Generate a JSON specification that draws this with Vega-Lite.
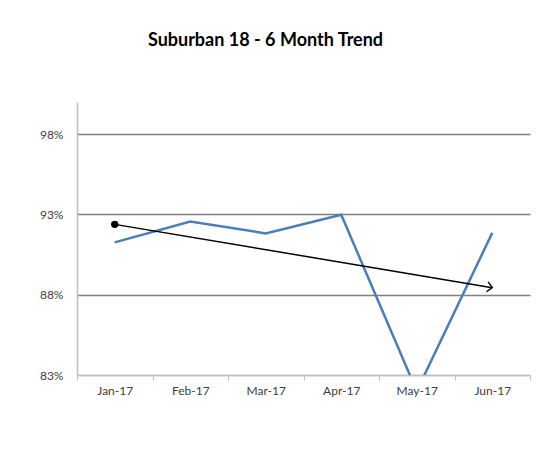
{
  "$schema": "https://vega.github.io/schema/vega-lite/v6.json",
  "width": 453,
  "height": 273,
  "autosize": {"type": "none"},
  "padding": {"left": 77, "top": 102, "right": 18, "bottom": 97},
  "background": "white",
  "title": {
    "text": "Suburban 18 - 6 Month Trend",
    "font": "Lato",
    "fontSize": 18,
    "fontWeight": "bold",
    "color": "#000000",
    "anchor": "middle",
    "dx": -38,
    "offset": 52
  },
  "config": {
    "view": {"stroke": null},
    "font": "Lato"
  },
  "datasets": {
    "actual": [
      {"month": "Jan-17", "value": 0.9126},
      {"month": "Feb-17", "value": 0.9255},
      {"month": "Mar-17", "value": 0.9182},
      {"month": "Apr-17", "value": 0.9298},
      {"month": "May-17", "value": 0.8200},
      {"month": "Jun-17", "value": 0.9185}
    ],
    "trend": [
      {"month": "Jan-17", "value": 0.9238},
      {"month": "Jun-17", "value": 0.8844}
    ]
  },
  "encoding": {
    "x": {
      "field": "month",
      "type": "ordinal",
      "sort": null,
      "scale": {"type": "band", "paddingInner": 0, "paddingOuter": 0, "domain": ["Jan-17", "Feb-17", "Mar-17", "Apr-17", "May-17", "Jun-17"]},
      "axis": {
        "title": null,
        "labelAngle": 0,
        "tickBand": "extent",
        "ticks": true,
        "tickSize": 5,
        "tickColor": "#bfbfbf",
        "domainColor": "#bfbfbf",
        "domainWidth": 1.5,
        "labelFont": "Lato",
        "labelFontSize": 12,
        "labelColor": "#404040",
        "labelPadding": 5,
        "grid": false
      }
    },
    "y": {
      "field": "value",
      "type": "quantitative",
      "scale": {"domain": [0.83, 1.0], "nice": false, "zero": false},
      "axis": {
        "title": null,
        "values": [0.83, 0.88, 0.93, 0.98],
        "format": ".0%",
        "ticks": false,
        "labelPadding": 14,
        "labelFont": "Lato",
        "labelFontSize": 12,
        "labelColor": "#404040",
        "domainColor": "#bfbfbf",
        "domainWidth": 1.5,
        "grid": true,
        "gridColor": {"condition": {"test": "datum.value < 0.84", "value": "#bfbfbf"}, "value": "#7f7f7f"},
        "gridWidth": 1.5
      }
    }
  },
  "layer": [
    {
      "data": {"name": "actual"},
      "mark": {"type": "line", "color": "#4a7ebb", "strokeWidth": 2.5, "clip": true}
    },
    {
      "data": {"name": "trend"},
      "mark": {"type": "line", "color": "#000000", "strokeWidth": 1.5}
    },
    {
      "data": {"name": "trend"},
      "transform": [{"filter": "datum.month == 'Jan-17'"}],
      "mark": {"type": "point", "filled": true, "color": "#000000", "size": 55, "opacity": 1}
    },
    {
      "data": {"name": "trend"},
      "transform": [{"filter": "datum.month == 'Jun-17'"}],
      "mark": {"type": "point", "shape": "M -1 -1 L 0 0 L -1 1", "filled": false, "stroke": "#000000", "strokeWidth": 1.5, "size": 100, "angle": 9.4, "opacity": 1}
    }
  ]
}
